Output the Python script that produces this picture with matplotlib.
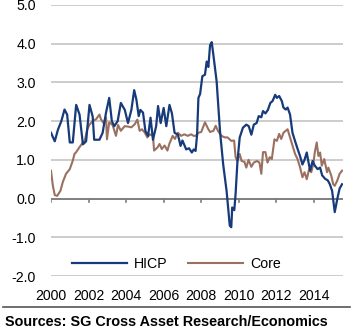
import matplotlib
matplotlib.use("Agg")
import matplotlib.pyplot as plt

# -----------------------------
# Data
# -----------------------------
hicp_t = [2000.0, 2000.2, 2000.37, 2000.55, 2000.72, 2000.86, 2001.0, 2001.16, 2001.34, 2001.52,
          2001.7, 2001.87, 2002.05, 2002.22, 2002.3, 2002.58, 2002.75, 2002.93, 2003.1, 2003.24,
          2003.37, 2003.55, 2003.72, 2003.93, 2004.1, 2004.28, 2004.43, 2004.55, 2004.67, 2004.76,
          2004.9, 2005.03, 2005.17, 2005.3, 2005.43, 2005.6, 2005.7, 2005.84, 2006.0, 2006.14,
          2006.31, 2006.44, 2006.58, 2006.76, 2006.9, 2007.0, 2007.2, 2007.35, 2007.5, 2007.6,
          2007.7, 2007.78, 2007.85, 2007.94, 2008.06, 2008.2, 2008.29, 2008.38, 2008.47, 2008.56,
          2008.65, 2008.82, 2009.0, 2009.17, 2009.35, 2009.43, 2009.52, 2009.6, 2009.65, 2009.76,
          2009.83, 2009.93, 2010.05, 2010.22, 2010.4, 2010.53, 2010.67, 2010.8, 2010.95, 2011.06,
          2011.2, 2011.29, 2011.42, 2011.55, 2011.68, 2011.8, 2011.94, 2012.03, 2012.15, 2012.29,
          2012.38, 2012.5, 2012.6, 2012.73, 2012.86, 2013.0, 2013.12, 2013.26, 2013.39, 2013.5,
          2013.62, 2013.7, 2013.8, 2013.93, 2014.05, 2014.2, 2014.33, 2014.44, 2014.6, 2014.74,
          2014.85, 2014.97, 2015.11, 2015.25, 2015.37, 2015.5]
hicp = [1.70, 1.48, 1.78, 2.00, 2.30, 2.17, 1.45, 1.45, 2.42, 2.17,
        1.40, 1.48, 2.42, 2.12, 1.52, 1.52, 1.70, 2.22, 2.60, 2.00,
        1.87, 2.00, 2.47, 2.29, 1.95, 2.29, 2.80, 2.55, 2.13, 2.29,
        2.22, 1.74, 1.62, 2.09, 1.52, 1.87, 2.39, 1.95, 2.34, 1.87,
        2.42, 2.20, 1.70, 1.65, 1.36, 1.50, 1.27, 1.30, 1.19, 1.27,
        1.23, 1.65, 2.60, 2.70, 3.16, 3.20, 3.54, 3.40, 3.96, 4.04,
        3.70, 3.03, 1.74, 0.88, 0.20, -0.22, -0.70, -0.74, -0.23, -0.30,
        0.12, 0.97, 1.58, 1.83, 1.91, 1.87, 1.65, 1.91, 1.95, 2.13,
        2.10, 2.26, 2.20, 2.29, 2.47, 2.52, 2.68, 2.60, 2.65, 2.52,
        2.35, 2.30, 2.35, 2.17, 1.70, 1.48, 1.30, 1.10, 0.88, 1.00,
        1.19, 0.97, 0.72, 0.97, 0.85, 0.76, 0.80, 0.60, 0.51, 0.47,
        0.37, 0.20, -0.35, 0.00, 0.26, 0.37]

core_t = [2000.0, 2000.1, 2000.2, 2000.33, 2000.5, 2000.63, 2000.8, 2001.0, 2001.16, 2001.25,
          2001.34, 2001.52, 2001.7, 2001.8, 2001.93, 2002.05, 2002.22, 2002.4, 2002.58, 2002.66,
          2002.8, 2002.93, 2002.98, 2003.1, 2003.28, 2003.46, 2003.57, 2003.72, 2003.8, 2003.93,
          2004.1, 2004.28, 2004.46, 2004.6, 2004.72, 2004.85, 2005.0, 2005.13, 2005.26, 2005.43,
          2005.49, 2005.67, 2005.78, 2005.9, 2006.05, 2006.2, 2006.3, 2006.48, 2006.6, 2006.76,
          2006.93, 2007.1, 2007.28, 2007.46, 2007.6, 2007.7, 2007.85, 2008.0, 2008.2, 2008.37,
          2008.47, 2008.65, 2008.77, 2008.9, 2009.08, 2009.25, 2009.4, 2009.6, 2009.75, 2009.83,
          2009.93, 2010.05, 2010.15, 2010.3, 2010.4, 2010.52, 2010.67, 2010.8, 2010.97, 2011.1,
          2011.2, 2011.29, 2011.42, 2011.53, 2011.65, 2011.76, 2011.9, 2012.03, 2012.15, 2012.26,
          2012.38, 2012.5, 2012.6, 2012.73, 2012.86, 2013.0, 2013.12, 2013.26, 2013.39, 2013.5,
          2013.62, 2013.75, 2013.86, 2013.97, 2014.05, 2014.15, 2014.24, 2014.33, 2014.42, 2014.55,
          2014.7, 2014.77, 2014.92, 2015.03, 2015.11, 2015.25, 2015.37, 2015.5]
core = [0.72, 0.33, 0.09, 0.07, 0.20, 0.43, 0.64, 0.76, 0.98, 1.15,
        1.20, 1.33, 1.45, 1.50, 1.79, 1.91, 2.00, 2.05, 2.17, 2.05,
        1.95, 2.10, 1.53, 1.97, 1.90, 1.62, 1.90, 1.75, 1.80, 1.87,
        1.86, 1.84, 1.92, 2.04, 1.75, 1.79, 1.70, 1.58, 1.66, 1.62,
        1.24, 1.32, 1.41, 1.28, 1.37, 1.24, 1.41, 1.62, 1.54, 1.70,
        1.62, 1.66, 1.62, 1.66, 1.62, 1.62, 1.70, 1.72, 1.97, 1.80,
        1.72, 1.75, 1.88, 1.74, 1.62, 1.58, 1.58, 1.49, 1.50, 1.07,
        0.97, 1.15, 0.97, 0.95, 0.80, 1.00, 0.82, 0.93, 0.97, 0.93,
        0.64, 1.20, 1.20, 0.93, 1.07, 1.02, 1.53, 1.49, 1.67, 1.54,
        1.70, 1.75, 1.79, 1.58, 1.37, 1.15, 1.03, 0.81, 0.55, 0.68,
        0.50, 0.77, 0.68, 0.90, 1.20, 1.45, 1.10, 1.19, 0.85, 1.02,
        0.68, 0.80, 0.60, 0.37, 0.33, 0.47, 0.64, 0.72]

year_ticks = [2000, 2002, 2004, 2006, 2008, 2010, 2012, 2014]
y_ticks = [-2.0, -1.0, 0.0, 1.0, 2.0, 3.0, 4.0, 5.0]

hicp_color = "#173a7a"
core_color = "#9a7060"

# -----------------------------
# Plot
# -----------------------------
plt.rcParams['font.family'] = ['Liberation Sans', 'DejaVu Sans']
fig = plt.figure(figsize=(3.52, 3.35), dpi=100)
ax = fig.add_axes([51/352, 1 - 276/335, (343 - 51)/352, (276 - 5)/335])

ax.set_xlim(2000, 2015.55)
ax.set_ylim(-2, 5)

for v in y_ticks:
    if v != 0:
        ax.axhline(v, color="#cccccc", lw=1.4, zorder=0)
ax.axhline(0, color="#7f7f7f", lw=1.4, zorder=1)
for yr in year_ticks:
    ax.plot([yr, yr], [0, -0.09], color="#7f7f7f", lw=1.2, zorder=1)

ax.plot(core_t, core, color=core_color, lw=1.5, label="Core", zorder=2)
ax.plot(hicp_t, hicp, color=hicp_color, lw=1.6, label="HICP", zorder=3)

ax.set_xticks(year_ticks)
ax.set_xticklabels([str(y) for y in year_ticks])
ax.set_yticks(y_ticks)
ax.set_yticklabels(["%.1f" % v for v in y_ticks])
ax.tick_params(axis="x", length=0, pad=9, labelsize=10.2)
ax.tick_params(axis="y", length=0, pad=11, labelsize=10.2)
for s in ax.spines.values():
    s.set_visible(False)

handles, labels = ax.get_legend_handles_labels()
ax.legend(handles[::-1], labels[::-1], ncol=2, frameon=False, fontsize=10.2,
          handlelength=3.9, handletextpad=0.5, columnspacing=1.4,
          loc="center left", bbox_to_anchor=(72/352, 1 - 264/335),
          bbox_transform=fig.transFigure, borderaxespad=0, borderpad=0)

fig.add_artist(plt.Line2D([3/352, 350/352], [1 - 307/335, 1 - 307/335],
                          color="#555555", lw=1.2, transform=fig.transFigure))
fig.text(5/352, 1 - 322/335, "Sources: SG Cross Asset Research/Economics",
         fontsize=10.4, fontweight="bold", va="center", ha="left")

fig.savefig("out.png", dpi=100)
